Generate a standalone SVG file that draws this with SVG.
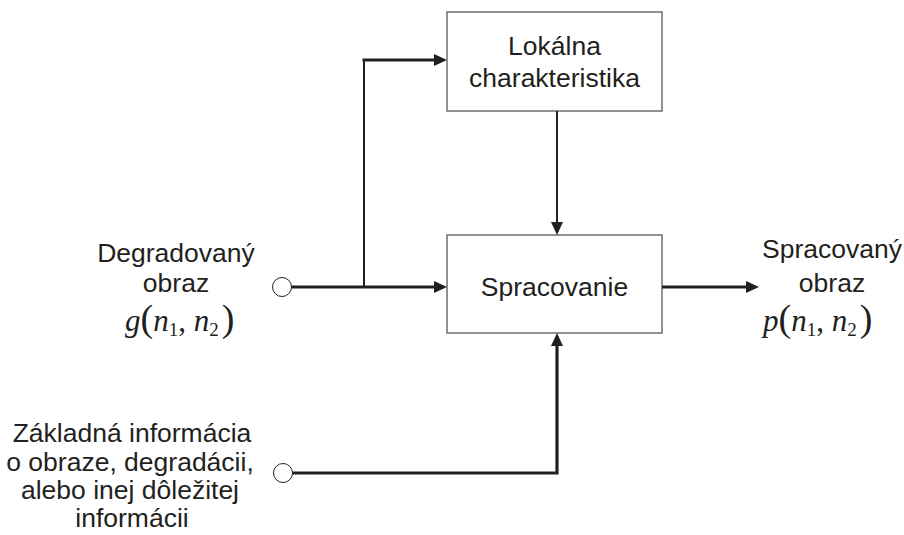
<svg xmlns="http://www.w3.org/2000/svg" width="904" height="535" viewBox="0 0 904 535">
<style>
.box{fill:#fff;stroke:#6d6e70;stroke-width:1.5}
.lbl{font-family:"Liberation Sans",Arial,sans-serif;font-size:26.5px;fill:#231f20;text-anchor:middle}
.math{font-family:"Liberation Serif","Times New Roman",serif;font-style:italic;font-size:31px;fill:#231f20}
.up{font-style:normal}
.sub{font-style:normal;font-size:19px}
.thick{stroke:#231f20;stroke-width:3.2;fill:none}
.thin{stroke:#231f20;stroke-width:2;fill:none}
.port{fill:#fff;stroke:#231f20;stroke-width:1}
.head{fill:#231f20}
</style>
<rect width="904" height="535" fill="#fff"/>
<g id="lokalna">
<rect class="box" x="447" y="12" width="215" height="99"/>
<text class="lbl" x="554.5" y="55">Lokálna</text>
<text class="lbl" x="554.5" y="87">charakteristika</text>
</g>
<g id="spracovanie">
<rect class="box" x="447" y="235" width="215" height="98"/>
<text class="lbl" x="554.5" y="296">Spracovanie</text>
</g>
<g id="vstup">
<text class="lbl" x="176" y="262">Degradovaný</text>
<text class="lbl" x="176" y="292">obraz</text>
<text class="math" x="125" y="331">g<tspan class="up" font-size="38">(</tspan>n<tspan class="sub" dy="5">1</tspan><tspan class="up" dy="-5">, </tspan>n<tspan class="sub" dy="5">2</tspan><tspan class="up" font-size="38" dy="-5" dx="3">)</tspan></text>
<circle class="port" cx="282" cy="287" r="9.5"/>
</g>
<g id="info">
<text class="lbl" x="132" y="442">Základná informácia</text>
<text class="lbl" x="130" y="471">o obraze, degradácii,</text>
<text class="lbl" x="130" y="499">alebo inej dôležitej</text>
<text class="lbl" x="132" y="527">informácii</text>
<circle class="port" cx="283" cy="473" r="9.5"/>
</g>
<g id="vystup">
<text class="lbl" x="832" y="258">Spracovaný</text>
<text class="lbl" x="832" y="292">obraz</text>
<text class="math" x="763" y="331">p<tspan class="up" font-size="38">(</tspan>n<tspan class="sub" dy="5">1</tspan><tspan class="up" dy="-5">, </tspan>n<tspan class="sub" dy="5">2</tspan><tspan class="up" font-size="38" dy="-5" dx="3">)</tspan></text>
</g>
<g id="connectors">
<line class="thick" x1="291.5" y1="287" x2="435" y2="287"/>
<polygon class="head" points="447,287 434,281 434,293"/>
<polyline class="thin" points="364,287 364,60"/>
<line class="thick" x1="362.5" y1="60" x2="435" y2="60"/>
<polygon class="head" points="447,60 434,54 434,66"/>
<line class="thin" x1="557" y1="111" x2="557" y2="223"/>
<polygon class="head" points="557,235 551,222 563,222"/>
<polyline class="thick" points="292.5,473 557,473 557,345"/>
<polygon class="head" points="557,333 551,346 563,346"/>
<line class="thick" x1="662" y1="287" x2="747" y2="287"/>
<polygon class="head" points="759,287 746,281 746,293"/>
</g>
</svg>
